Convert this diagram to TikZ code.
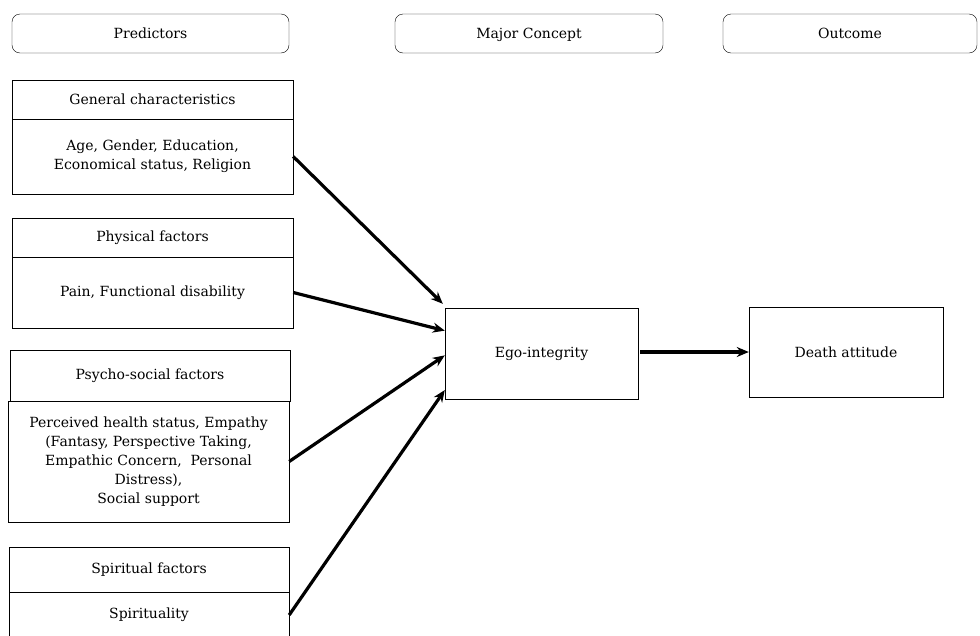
\documentclass[tikz,border=0pt]{standalone}
\usepackage{fontspec}
\setmainfont{DejaVu Serif}
\usetikzlibrary{arrows.meta,calc}

\begin{document}
\begin{tikzpicture}[x=1pt, y=-1pt, font=\fontsize{14}{19}\selectfont]
\tikzstyle{head} = [draw=black, rounded corners=8pt, inner sep=0pt, text height=12pt, text depth=2pt]
\tikzstyle{cell} = [draw=black, inner sep=0pt, align=center]
\tikzstyle{edge} = [draw=black, line width=3.2pt, -{Stealth[length=12pt, width=10pt]}]

\useasboundingbox (0,0) rectangle (980,635);

% column titles
\node[head, minimum width=277pt, minimum height=39pt] (pred) at (150.5,33.5) {Predictors};
\node[head, minimum width=268pt, minimum height=39pt] (major) at (529,33.5) {Major Concept};
\node[head, minimum width=254pt, minimum height=39pt] (outc) at (850,33.5) {Outcome};

% predictor boxes
\node[cell, minimum width=281pt, minimum height=39pt] (genhead) at (152.5,99.5) {General characteristics};
\node[cell, minimum width=281pt, minimum height=75pt] (genbody) at (152.5,156.5) {Age, Gender, Education,\\Economical status, Religion};
\node[cell, minimum width=281pt, minimum height=39pt] (physhead) at (152.5,237.5) {Physical factors};
\node[cell, minimum width=281pt, minimum height=71pt] (physbody) at (152.5,292.5) {Pain, Functional disability};
\node[cell, minimum width=280pt, minimum height=51pt] (psyhead) at (150,375.5) {Psycho-social factors};
\node[cell, minimum width=281pt, minimum height=121pt] (psybody) at (148.5,461.5) {Perceived health status, Empathy\\(Fantasy, Perspective Taking,\\Empathic Concern,\ \ Personal\\Distress),\\Social support};
\node[cell, minimum width=280pt, minimum height=45pt] (spihead) at (149,569.5) {Spiritual factors};
\node[cell, minimum width=280pt, minimum height=46pt] (spibody) at (149,615) {Spirituality};

% concept and outcome
\node[cell, minimum width=193pt, minimum height=91pt] (ego) at (541.5,353.5) {Ego-integrity};
\node[cell, minimum width=194pt, minimum height=90pt] (death) at (846,352) {Death attitude};

\draw[edge] (genbody.east) to ($(ego.north west)+(-2,-4)$);
\draw[edge] (physbody.east) to ($(ego.north west)!0.25!(ego.south west)$);
\draw[edge] (psybody.east) to ($(ego.north west)!0.52!(ego.south west)$);
\draw[edge] (spibody.east) to ($(ego.north west)!0.9!(ego.south west)$);
\draw[edge] ([xshift=2pt]ego.east |- death.west) to (death.west);
\end{tikzpicture}
\end{document}
